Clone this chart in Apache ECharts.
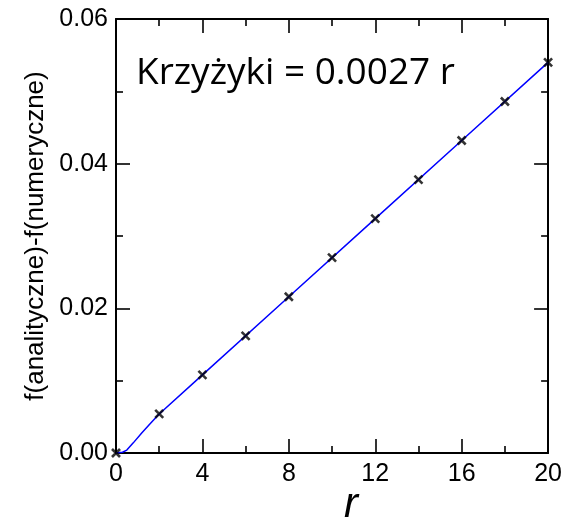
<!DOCTYPE html>
<html>
<head>
<meta charset="utf-8">
<script src="https://cdn.jsdelivr.net/npm/echarts@6/dist/echarts.min.js"></script>
<style>
  html, body { margin: 0; padding: 0; background: #fff; }
  #chart { width: 565px; height: 518px; }
</style>
</head>
<body>
<div id="chart"></div>
<script>
// krzyżyki (punkty numeryczne)
const rPoints = [0, 2, 4, 6, 8, 10, 12, 14, 16, 18, 20];
const diffPoints = [0, 0.0054, 0.0108, 0.0162, 0.0216, 0.027, 0.0324, 0.0378, 0.0432, 0.0486, 0.054];

// niebieska linia
const rLine = [0, 0.3, 0.5, 0.8, 1.2, 1.6, 2, 4, 8, 12, 16, 20];
const diffLine = [0, 0.0001, 0.0004, 0.0014, 0.0028, 0.0041, 0.0054, 0.0108, 0.0216, 0.0324, 0.0432, 0.054];

const xTicks = [0, 4, 8, 12, 16, 20];
const yTicks = [0, 0.02, 0.04, 0.06];

const chart = echarts.init(document.getElementById('chart'));

const font = 'Liberation Sans, Arial, sans-serif';
const axisLine = { show: true, onZero: false, lineStyle: { color: '#000', width: 2 } };
const tick = { show: true, inside: true, length: 14, lineStyle: { color: '#000', width: 1.6 } };
const minor = { show: true, splitNumber: 2, length: 7, lineStyle: { color: '#000', width: 1.6 } };

const xBase = {
  type: 'value', min: xTicks[0], max: xTicks[xTicks.length - 1], interval: 4,
  axisLine: axisLine, axisTick: tick, minorTick: minor, splitLine: { show: false }
};
const yBase = {
  type: 'value', min: yTicks[0], max: yTicks[yTicks.length - 1], interval: 0.02,
  axisLine: axisLine, axisTick: tick, minorTick: minor, splitLine: { show: false }
};

chart.setOption({
  animation: false,
  grid: { left: 116, top: 19, width: 433, height: 434 },
  xAxis: [
    Object.assign({}, xBase, {
      position: 'bottom',
      axisLabel: { color: '#000', fontSize: 25, fontFamily: font, margin: 9 }
    }),
    Object.assign({}, xBase, { position: 'top', axisLabel: { show: false } })
  ],
  yAxis: [
    Object.assign({}, yBase, {
      position: 'left',
      name: 'f(analityczne)-f(numeryczne)', nameLocation: 'middle', nameGap: 65,
      nameTextStyle: { color: '#000', fontSize: 26, fontFamily: font },
      axisLabel: {
        color: '#000', fontSize: 25, fontFamily: font, margin: 8,
        formatter: v => v.toFixed(2)
      }
    }),
    Object.assign({}, yBase, { position: 'right', axisLabel: { show: false } })
  ],
  graphic: [
    {
      type: 'text', x: 136, y: 73,
      style: {
        text: 'Krzyżyki = 0.0027 r', fill: '#000', fontSize: 37,
        fontFamily: 'Open Sans, sans-serif', align: 'left', verticalAlign: 'middle'
      }
    },
    {
      type: 'text', x: 351, y: 505,
      style: {
        text: 'r', fill: '#000', fontSize: 42, fontStyle: 'italic',
        fontFamily: font, align: 'center', verticalAlign: 'middle'
      }
    }
  ],
  series: [
    {
      type: 'line',
      data: rLine.map((r, i) => [r, diffLine[i]]),
      showSymbol: false,
      lineStyle: { color: '#0000ff', width: 1.5 },
      z: 2
    },
    {
      type: 'scatter',
      data: rPoints.map((r, i) => [r, diffPoints[i]]),
      symbol: 'path://M0,0L10,10M10,0L0,10',
      symbolSize: 8,
      itemStyle: { color: 'none', borderColor: '#000', borderWidth: 2.6 },
      z: 3
    }
  ]
});
</script>
</body>
</html>
